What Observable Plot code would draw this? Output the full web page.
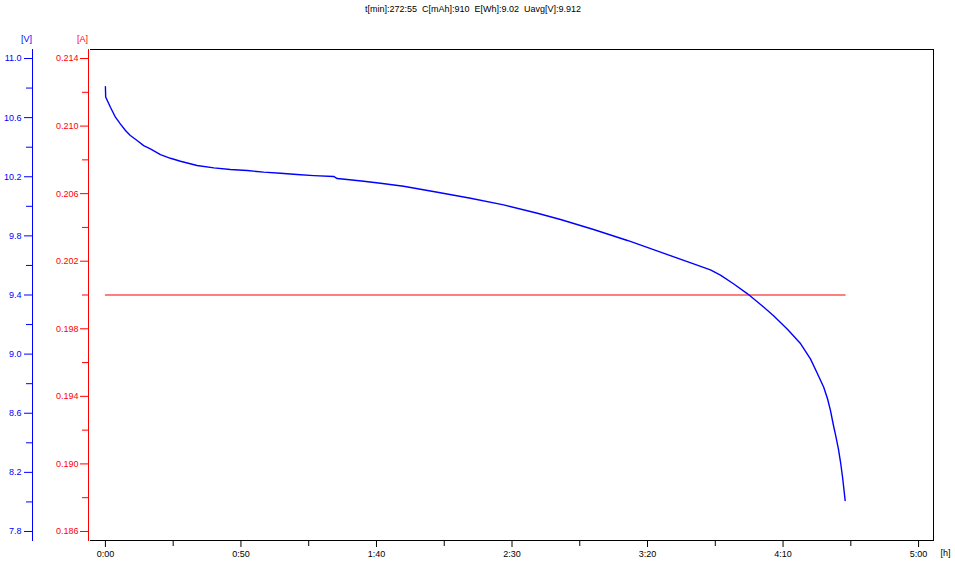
<!DOCTYPE html>
<html>
<head>
<meta charset="utf-8">
<script src="https://cdn.jsdelivr.net/npm/d3@7"></script>
<script src="https://cdn.jsdelivr.net/npm/@observablehq/plot@0.6"></script>
<style>
  html, body { margin: 0; padding: 0; background: #fff; }
  #chart svg { display: block; }
</style>
</head>
<body>
<div id="chart"></div>
<script>
// ---- data ----
const titleText = "t[min]:272:55\u00a0\u00a0C[mAh]:910\u00a0\u00a0E[Wh]:9.02\u00a0\u00a0Uavg[V]:9.912";
const voltageUnit = "[V]";
const currentUnit = "[A]";
const timeUnit = "[h]";

// discharge voltage curve: time in minutes, voltage in V
const timeMin = [0, 0.1, 1.85, 3.7, 5.5, 7.4, 9.2, 11.7, 14.1, 16.6, 20.3, 24, 27.7, 33.8, 40, 46.1, 52.3, 58.4,
  64.6, 70.7, 76.9, 84.2, 85.5, 89.2, 95.3, 101.5, 110, 122.5, 134.7, 146.9, 159.4, 167.9, 180.1, 192.6,
  204.8, 217, 223.2, 226.9, 231.7, 236.9, 241.7, 246.5, 251.7, 256.5, 260.1, 262.7, 265, 266.4, 267.5,
  268.6, 269.4, 270.4, 271.2, 272, 272.9];
const voltage = [10.81, 10.74, 10.67, 10.603, 10.558, 10.513, 10.479, 10.445, 10.411, 10.389, 10.35, 10.325,
  10.305, 10.276, 10.26, 10.249, 10.242, 10.231, 10.224, 10.215, 10.208, 10.202, 10.188, 10.181, 10.17,
  10.156, 10.136, 10.095, 10.055, 10.01, 9.953, 9.911, 9.843, 9.769, 9.69, 9.61, 9.57, 9.535, 9.476, 9.408,
  9.336, 9.26, 9.166, 9.07, 8.968, 8.867, 8.776, 8.698, 8.618, 8.517, 8.45, 8.36, 8.27, 8.16, 8.01];

// discharge current: constant
const currentTime = [0, 272.9];
const current = [0.200, 0.200];

// axis ticks
const voltTicks = [7.8, 8.2, 8.6, 9.0, 9.4, 9.8, 10.2, 10.6, 11.0];
const voltMinor = [8.0, 8.4, 8.8, 9.2, 9.6, 10.0, 10.4, 10.8];
const currTicks = [0.186, 0.190, 0.194, 0.198, 0.202, 0.206, 0.210, 0.214];
const currMinor = [0.188, 0.192, 0.196, 0.200, 0.204, 0.208, 0.212];
const timeTicks = [0, 50, 100, 150, 200, 250, 300];
const timeMinor = [25, 75, 125, 175, 225, 275];

// ---- mapping current -> voltage axis space ----
const cToV = c => 7.8 + (c - 0.186) / 0.028 * 3.2;
const vToC = v => (v - 7.8) / 3.2 * 0.028 + 0.186;
const fmtTime = m => `${Math.floor(m / 60)}:${String(m % 60).padStart(2, "0")}`;

const voltData = timeMin.map((t, i) => ({t, v: voltage[i]}));
const currData = currentTime.map((t, i) => ({t, v: cToV(current[i])}));

const BLUE = "#0000ff", RED = "#ff0000";
const font = "'Liberation Sans', Arial, sans-serif";

const chart = Plot.plot({
  width: 955,
  height: 563,
  marginLeft: 90,
  marginRight: 22,
  marginTop: 49,
  marginBottom: 23,
  style: {fontFamily: font, fontSize: "9px", background: "#fff", overflow: "visible"},
  x: {domain: [-5.5, 305.5], axis: null},
  y: {domain: [7.739, 11.061], axis: null},
  marks: [
    // frame pieces
    Plot.frame({anchor: "top", stroke: "black"}),
    Plot.frame({anchor: "right", stroke: "black"}),
    Plot.frame({anchor: "bottom", stroke: "black"}),
    Plot.frame({anchor: "left", stroke: RED, dx: -2}),
    Plot.frame({anchor: "left", stroke: BLUE, dx: -58}),
    // voltage axis (blue)
    Plot.axisY(voltTicks, {anchor: "left", label: null, dx: -58, tickSize: 8, tickPadding: 3, stroke: BLUE, fill: BLUE,
      tickFormat: d => d.toFixed(1)}),
    Plot.axisY(voltMinor, {anchor: "left", label: null, dx: -58, tickSize: 6, stroke: BLUE, tickFormat: () => ""}),
    // current axis (red)
    Plot.axisY(currTicks.map(cToV), {anchor: "left", label: null, dx: -2, tickSize: 8, tickPadding: 2, stroke: RED, fill: RED,
      tickFormat: v => vToC(v).toFixed(3)}),
    Plot.axisY(currMinor.map(cToV), {anchor: "left", label: null, dx: -2, tickSize: 6, stroke: RED, tickFormat: () => ""}),
    // time axis
    Plot.axisX(timeTicks, {anchor: "bottom", label: null, tickSize: 7, tickPadding: 3, stroke: "black", fill: "black",
      tickFormat: fmtTime}),
    Plot.axisX(timeMinor, {anchor: "bottom", label: null, tickSize: 6, stroke: "black", tickFormat: () => ""}),
    // series
    Plot.line(currData, {x: "t", y: "v", stroke: RED, strokeWidth: 1.2}),
    Plot.line(voltData, {x: "t", y: "v", stroke: BLUE, strokeWidth: 1.4, curve: "linear"}),
    // texts
    Plot.text([titleText], {frameAnchor: "top", textAnchor: "middle", lineAnchor: "middle", dx: -39, dy: -40,
      text: d => d, fill: "black", fontSize: 9}),
    Plot.text([voltageUnit], {frameAnchor: "top-left", textAnchor: "middle", lineAnchor: "middle", dx: -64, dy: -10,
      text: d => d, fill: BLUE, fontSize: 9}),
    Plot.text([currentUnit], {frameAnchor: "top-left", textAnchor: "middle", lineAnchor: "middle", dx: -8, dy: -10,
      text: d => d, fill: RED, fontSize: 9}),
    Plot.text([timeUnit], {frameAnchor: "bottom-right", textAnchor: "middle", lineAnchor: "middle", dx: 12, dy: 13,
      text: d => d, fill: "black", fontSize: 9})
  ]
});

document.getElementById("chart").appendChild(chart);
</script>
</body>
</html>
